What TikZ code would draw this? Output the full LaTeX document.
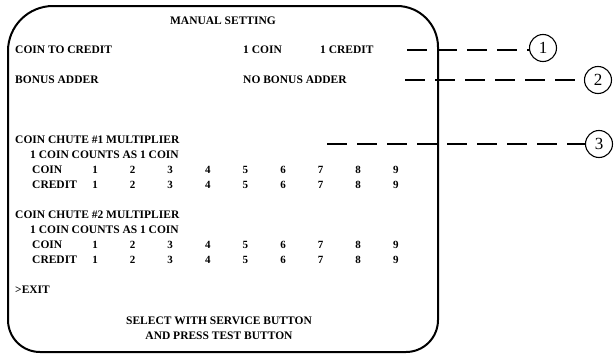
\documentclass[tikz,border=0pt]{standalone}
\usepackage{fontspec}
\setmainfont{Liberation Serif}
\begin{document}
\begin{tikzpicture}[x=1pt,y=-1pt,
  txt/.style={anchor=west,inner sep=0pt,font=\bfseries\fontsize{11.5}{12}\selectfont},
  ctxt/.style={anchor=center,inner sep=0pt,font=\bfseries\fontsize{11.5}{12}\selectfont},
  num/.style={anchor=center,inner sep=0pt,font=\bfseries\fontsize{11}{12}\selectfont},
  lead/.style={line width=1.8pt,dash pattern=on 20pt off 10pt},
  circnum/.style={circle,draw,line width=1.1pt,minimum size=27pt,inner sep=0pt,font=\fontsize{17}{17}\selectfont},
  screen/.style={line width=2pt}]
\useasboundingbox (0,0) rectangle (614,356);
% screen frame
\draw[screen] (8,51) .. controls (8,26.2) and (28.2,6) .. (53,6) -- (397,6)
  .. controls (419.6,6) and (438,24.4) .. (438,47) -- (438,320)
  .. controls (438,337.7) and (423.7,352) .. (406,352) -- (40,352)
  .. controls (22.3,352) and (8,337.7) .. (8,320) -- cycle;
% texts
\node[ctxt] (title) at (223,21) {MANUAL SETTING};
\node[txt] (c2c) at (15,50) {COIN TO CREDIT};
\node[txt] (onecoin) at (243,50) {1 COIN};
\node[txt] (onecred) at (320,50) {1 CREDIT};
\node[txt] (bonus) at (15,80) {BONUS ADDER};
\node[txt] (nobonus) at (243,80) {NO BONUS ADDER};
% chute 1
\node[txt] (ch1) at (15,140) {COIN CHUTE \#1 MULTIPLIER};
\node[txt] (ch1c) at (30,155) {1 COIN COUNTS AS 1 COIN};
\node[txt] (ch1coin) at (32,170) {COIN};
\node[txt] (ch1cred) at (32,185) {CREDIT};
% chute 2
\node[txt] (ch2) at (15,215) {COIN CHUTE \#2 MULTIPLIER};
\node[txt] (ch2c) at (30,230) {1 COIN COUNTS AS 1 COIN};
\node[txt] (ch2coin) at (32,245) {COIN};
\node[txt] (ch2cred) at (32,260) {CREDIT};
\foreach \i in {1,...,9}{
  \pgfmathsetmacro{\xx}{95+37.6*(\i-1)}
  \node[num] (a\i) at (\xx,170) {\i};
  \node[num] (b\i) at (\xx,185) {\i};
  \node[num] (c\i) at (\xx,245) {\i};
  \node[num] (d\i) at (\xx,260) {\i};
}
\node[txt] (exit) at (15,290) {>EXIT};
\node[ctxt] (sel1) at (219,321) {SELECT WITH SERVICE BUTTON};
\node[ctxt] (sel2) at (219,336) {AND PRESS TEST BUTTON};
% callouts
\node[circnum] (n1) at (543,48) {1};
\node[circnum] (n2) at (598,80) {2};
\node[circnum] (n3) at (599,144) {3};
\coordinate (s1) at (407,50);
\coordinate (s2) at (405,80);
\coordinate (s3) at (327,144);
\draw[lead] (s1) -- (s1 -| n1.west);
\draw[lead] (s2) -- (n2.west);
\draw[lead] (s3) -- (n3.west);
\end{tikzpicture}
\end{document}
